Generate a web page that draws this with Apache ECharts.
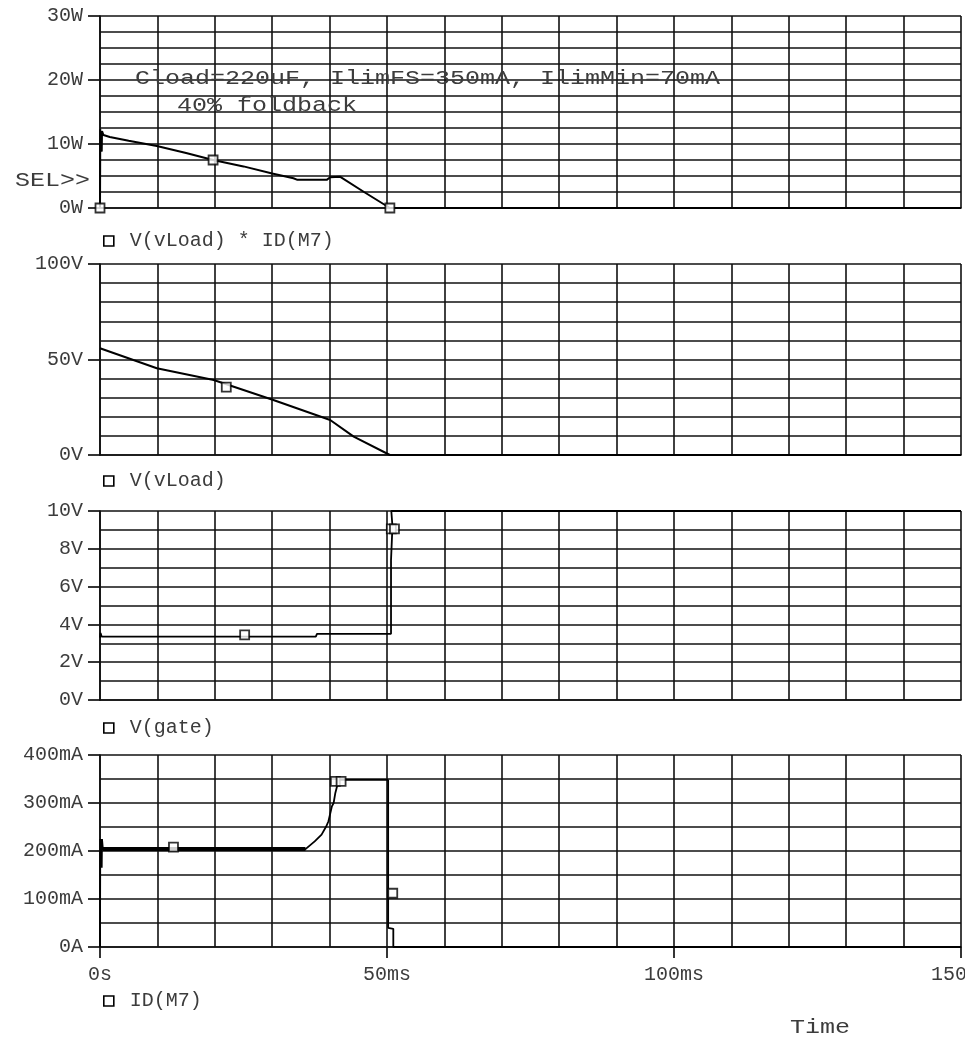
<!DOCTYPE html>
<html>
<head>
<meta charset="utf-8">
<title>Load transient: power, load voltage, gate voltage, drain current</title>
<script src="https://cdn.jsdelivr.net/npm/echarts@6/dist/echarts.min.js"></script>
<style>
  html, body { margin: 0; padding: 0; background: #fff; }
  #chart { width: 965px; height: 1041px; }
</style>
</head>
<body>
<div id="chart"></div>
<script>
// Time axis (ms) and its tick labels
const timeTicks = [0, 50, 100, 150];
const timeTickLabels = ['0s', '50ms', '100ms', '150ms'];

// Trace names
const traceNames = ['V(vLoad) * ID(M7)', 'V(vLoad)', 'V(gate)', 'ID(M7)'];

// V(vLoad) * ID(M7), watts, [ms, W]
const powerTrace = [
  [0, 0], [0.05, 12.3], [0.3, 8.8], [0.35, 12.0], [0.6, 11.4], [1.7, 11.1],
  [5, 10.5], [9.9, 9.7], [15, 8.6], [19.7, 7.5], [25, 6.5], [30, 5.4],
  [33.7, 4.65], [34.4, 4.4], [39.5, 4.4], [40.1, 4.8], [41.8, 4.9],
  [46, 2.5], [50.5, 0], [150, 0]
];
const powerMarks = [[0, 0], [19.7, 7.5], [50.5, 0]];

// V(vLoad), volts
const loadTrace = [
  [0, 55.9], [9.9, 45.4], [19.8, 39.3], [30.2, 28.8], [40.1, 18.3],
  [44.2, 9.6], [50.5, 0], [150, 0]
];
const loadMarks = [[22.0, 35.5]];

// V(gate), volts
const gateTrace = [
  [0, 3.3], [0.1, 3.55], [0.3, 3.35], [37.6, 3.35], [37.8, 3.5], [50.7, 3.5],
  [50.7, 7.4], [50.95, 7.5], [50.95, 9.2], [50.75, 9.3], [50.75, 10], [150, 10]
];
const gateMarks = [[25.2, 3.45], [50.75, 9.05], [51.3, 9.05]];

// ID(M7), milliamps
const drainTrace = [
  [0, 0], [0.05, 225], [0.3, 165], [0.35, 225], [0.5, 204], [35.8, 204],
  [36, 208], [37.4, 220], [38.6, 234], [39.4, 251], [39.8, 262], [40.4, 293],
  [40.7, 300], [41.0, 321], [41.3, 335], [41.5, 348], [50.2, 348],
  [50.2, 40], [51.1, 38], [51.1, 0], [150, 0]
];
// noisy current-limit plateau, drawn heavier
const drainPlateau = [[0.5, 204], [35.8, 204]];
const drainMarks = [[12.8, 208], [41.0, 345], [42.0, 345], [51.0, 112]];

// Y axis ranges: [min, max, labelled interval, grid subdivisions]
const yRanges = [
  [0, 30, 10, 4],
  [0, 100, 50, 5],
  [0, 10, 2, 2],
  [0, 400, 100, 2]
];
const yUnits = ['W', 'V', 'V', 'mA'];

const annotationLines = ['Cload=220uF, IlimFS=350mA, IlimMin=70mA', '40% foldback'];

// ---- layout / styling ----
const FONT = 'Liberation Mono, DejaVu Sans Mono, monospace';
const TXT = '#3c3c3c';
const INK = '#111';
const grids = [
  { left: 100, top: 16, width: 861, height: 192 },
  { left: 100, top: 264, width: 861, height: 191 },
  { left: 100, top: 511, width: 861, height: 189 },
  { left: 100, top: 755, width: 861, height: 192 }
].map(g => Object.assign(g, { containLabel: false, outerBoundsMode: 'none' }));
const legendCenters = [241, 481, 728, 1001];

const gridLine = { color: INK, width: 1.6 };

const xAxes = grids.map((g, i) => ({
  type: 'value', gridIndex: i, min: 0, max: 150, interval: 50,
  axisLine: { show: true, lineStyle: { color: INK, width: 1.7 } },
  axisTick: { show: i === 3, length: 11, lineStyle: { color: INK, width: 1.7 } },
  minorTick: { show: false, splitNumber: 5 },
  splitLine: { show: true, lineStyle: gridLine },
  minorSplitLine: { show: true, lineStyle: gridLine },
  axisLabel: {
    show: i === 3, margin: 18, fontFamily: FONT, fontSize: 20, color: TXT,
    showMinLabel: true, showMaxLabel: true, hideOverlap: false,
    formatter: v => timeTickLabels[timeTicks.indexOf(v)] || ''
  }
}));

const yAxes = yRanges.map((r, i) => ({
  type: 'value', gridIndex: i, min: r[0], max: r[1], interval: r[2],
  axisLine: { show: true, lineStyle: { color: INK, width: 1.7 } },
  axisTick: { show: true, length: 12, lineStyle: { color: INK, width: 1.7 } },
  minorTick: { show: false, splitNumber: r[3] },
  splitLine: { show: true, lineStyle: gridLine },
  minorSplitLine: { show: true, lineStyle: gridLine },
  axisLabel: {
    margin: 17, fontFamily: FONT, fontSize: 20, color: TXT,
    showMinLabel: true, showMaxLabel: true,
    formatter: v => (v === 0 && yUnits[i] === 'mA') ? '0A' : v + yUnits[i]
  }
}));

function trace(name, data, idx, width) {
  return {
    name: name, type: 'line', xAxisIndex: idx, yAxisIndex: idx, data: data,
    symbol: 'none', animation: false, silent: true,
    lineStyle: { color: '#000', width: width }, z: 3
  };
}
function marks(name, data, idx) {
  return {
    name: name, type: 'scatter', xAxisIndex: idx, yAxisIndex: idx, data: data,
    symbol: 'rect', symbolSize: 9, animation: false, silent: true,
    itemStyle: { color: '#fff', borderColor: '#000', borderWidth: 1.8 }, z: 4
  };
}

const series = [
  trace(traceNames[0], powerTrace, 0, 2),
  marks(traceNames[0], powerMarks, 0),
  trace(traceNames[1], loadTrace, 1, 2),
  marks(traceNames[1], loadMarks, 1),
  trace(traceNames[2], gateTrace, 2, 1.8),
  marks(traceNames[2], gateMarks, 2),
  trace(traceNames[3], drainTrace, 3, 1.8),
  trace('ID(M7) plateau', drainPlateau, 3, 4),
  marks(traceNames[3], drainMarks, 3)
];

const legends = traceNames.map((n, i) => ({
  data: [n], left: 103, top: legendCenters[i] - 10, orient: 'horizontal',
  padding: 0, selectedMode: false, icon: 'rect', itemWidth: 10, itemHeight: 10,
  itemStyle: { color: '#fff', borderColor: '#000', borderWidth: 1.6 },
  textStyle: { fontFamily: FONT, fontSize: 20, color: TXT, padding: [0, 0, 0, 11] }
}));

function label(text, x, y, align) {
  return {
    type: 'text', x: x, y: y, scaleX: 1.25, silent: true, z: 10,
    style: {
      text: text, fill: TXT, font: '20px ' + FONT,
      textAlign: align || 'left', textVerticalAlign: 'middle'
    }
  };
}

const chart = echarts.init(document.getElementById('chart'), null, { renderer: 'canvas' });
chart.setOption({
  backgroundColor: '#fff',
  animation: false,
  grid: grids,
  xAxis: xAxes,
  yAxis: yAxes,
  legend: legends,
  series: series,
  graphic: [
    label(annotationLines[0], 135, 79),
    label(annotationLines[1], 177, 106),
    label('SEL>>', 15, 181),
    label('Time', 790, 1028)
  ]
});
</script>
</body>
</html>
